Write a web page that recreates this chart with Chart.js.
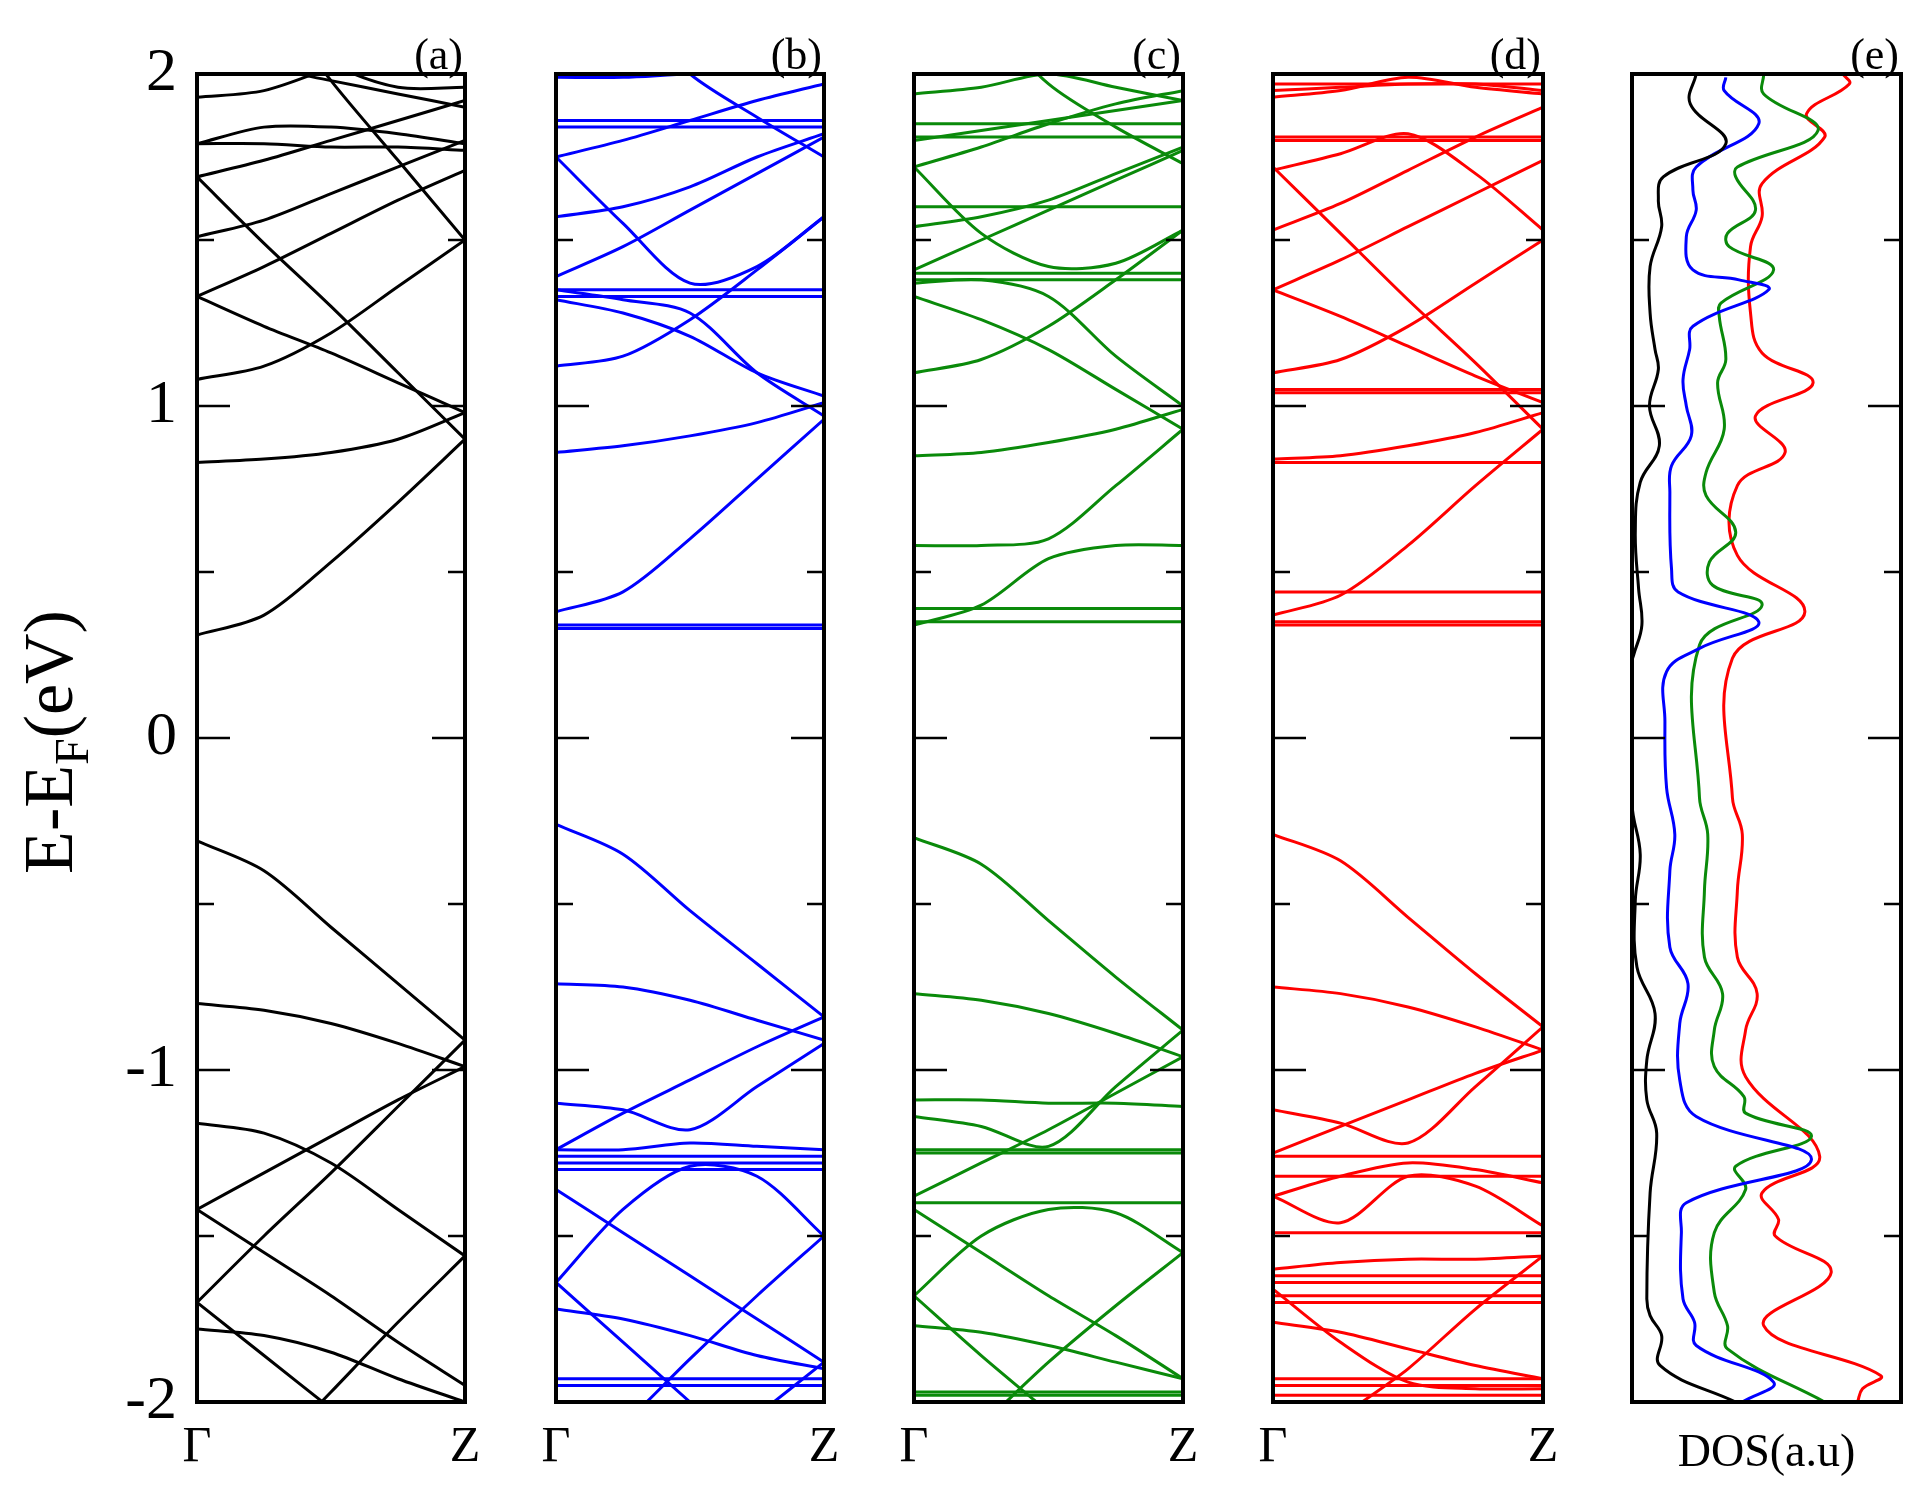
<!DOCTYPE html>
<html><head><meta charset="utf-8">
<script src="https://cdn.jsdelivr.net/npm/chart.js@4.4.1/dist/chart.umd.min.js"></script>
<style>
html,body{margin:0;padding:0;background:#fff;width:1929px;height:1486px;overflow:hidden}
.p{position:absolute;top:0}
</style></head><body>
<div class="p" id="wa" style="left:0px;width:495px;height:1486px"><canvas id="ca"></canvas></div>
<div class="p" id="wb" style="left:476px;width:378px;height:1486px"><canvas id="cb"></canvas></div>
<div class="p" id="wc" style="left:834px;width:379px;height:1486px"><canvas id="cc"></canvas></div>
<div class="p" id="wd" style="left:1193px;width:380px;height:1486px"><canvas id="cd"></canvas></div>
<div class="p" id="we" style="left:1552px;width:379px;height:1486px"><canvas id="ce"></canvas></div>
<script>
// k-path sample positions (Γ=0, Z=1)
const kPoints = [0, 0.25, 0.5, 0.75, 1];
const kLabels = ['Γ', 'Z'];
const yTicks = [-2, -1, 0, 1, 2];
const panelLabels = ['(a)', '(b)', '(c)', '(d)', '(e)'];

// Panel (a) bands, energies (eV) at kPoints
const bandsA = [
 [-0.31,-0.40,-0.57,-0.74,-0.91],
 [-0.80,-0.82,-0.86,-0.92,-0.99],
 [-1.16,-1.19,-1.28,-1.42,-1.56],
 [-1.42,-1.31,-1.20,-1.09,-0.99],
 [-1.70,-1.50,-1.31,-1.11,-0.91],
 [-1.42,-1.55,-1.68,-1.82,-1.95],
 [-1.70,-1.86,-2.02,-2.18,-2.34],
 [-1.78,-1.80,-1.85,-1.93,-2.00],
 [-2.40,-2.18,-1.97,-1.76,-1.56],
 [0.31,0.37,0.53,0.71,0.90],
 [0.83,0.84,0.86,0.90,0.98],
 [1.08,1.12,1.22,1.36,1.50],
 [1.33,1.24,1.16,1.07,0.98],
 [1.33,1.42,1.52,1.62,1.71],
 [1.69,1.49,1.30,1.10,0.90],
 [1.69,1.74,1.80,1.86,1.92],
 [1.51,1.56,1.64,1.72,1.80],
 [1.79,1.79,1.78,1.78,1.77],
 [1.79,1.84,1.84,1.82,1.79],
 [1.93,1.95,2.02,2.10,2.20],
 [2.50,2.25,1.98,1.74,1.50],
 [2.30,2.15,2.03,1.96,1.96],
 [2.05,2.02,1.98,1.94,1.90]
];
// Panel (b)
const bandsB = [
 [-0.26,-0.35,-0.52,-0.68,-0.84],
 [-0.74,-0.75,-0.79,-0.85,-0.91],
 [-1.10,-1.12,-1.18,-1.05,-0.92],
 [-1.24,-1.13,-1.03,-0.93,-0.84],
 [-1.24,-1.24,-1.22,-1.23,-1.24],
 [-1.26,-1.26,-1.26,-1.26,-1.26],
 [-1.28,-1.28,-1.28,-1.28,-1.28],
 [-1.30,-1.30,-1.30,-1.30,-1.30],
 [-1.36,-1.49,-1.62,-1.75,-1.88],
 [-1.64,-1.42,-1.29,-1.32,-1.50],
 [-1.64,-1.82,-2.00,-2.18,-2.36],
 [-1.72,-1.75,-1.80,-1.86,-1.90],
 [-2.25,-2.07,-1.87,-1.68,-1.50],
 [-1.93,-1.93,-1.93,-1.93,-1.93],
 [-1.95,-1.95,-1.95,-1.95,-1.95],
 [-2.50,-2.35,-2.20,-2.04,-1.88],
 [0.38,0.44,0.60,0.78,0.96],
 [0.34,0.34,0.34,0.34,0.34],
 [0.33,0.33,0.33,0.33,0.33],
 [0.86,0.88,0.91,0.95,1.01],
 [1.12,1.15,1.26,1.41,1.57],
 [1.32,1.28,1.21,1.10,1.03],
 [1.35,1.32,1.28,1.10,0.97],
 [1.35,1.35,1.35,1.35,1.35],
 [1.33,1.33,1.33,1.33,1.33],
 [1.39,1.48,1.59,1.70,1.81],
 [1.75,1.55,1.37,1.42,1.57],
 [1.75,1.80,1.86,1.92,1.97],
 [1.57,1.60,1.66,1.75,1.82],
 [1.86,1.86,1.86,1.86,1.86],
 [1.84,1.84,1.84,1.84,1.84],
 [2.40,2.20,2.00,1.87,1.75],
 [1.99,1.99,2.00,2.00,2.00]
];
// Panel (c)
const bandsC = [
 [-0.30,-0.38,-0.55,-0.72,-0.88],
 [-0.77,-0.79,-0.83,-0.89,-0.96],
 [-1.09,-1.09,-1.10,-1.10,-1.11],
 [-1.14,-1.17,-1.23,-1.05,-0.88],
 [-1.24,-1.24,-1.24,-1.24,-1.24],
 [-1.25,-1.25,-1.25,-1.25,-1.25],
 [-1.38,-1.28,-1.18,-1.07,-0.96],
 [-1.42,-1.55,-1.68,-1.80,-1.93],
 [-1.40,-1.40,-1.40,-1.40,-1.40],
 [-1.68,-1.50,-1.42,-1.43,-1.55],
 [-1.68,-1.86,-2.03,-2.20,-2.37],
 [-1.77,-1.79,-1.83,-1.88,-1.93],
 [-2.25,-2.07,-1.88,-1.71,-1.55],
 [-1.97,-1.97,-1.97,-1.97,-1.97],
 [-1.98,-1.98,-1.98,-1.98,-1.98],
 [0.34,0.40,0.54,0.58,0.58],
 [0.58,0.58,0.60,0.76,0.93],
 [0.39,0.39,0.39,0.39,0.39],
 [0.35,0.35,0.35,0.35,0.35],
 [0.85,0.86,0.89,0.93,0.99],
 [1.10,1.14,1.24,1.38,1.53],
 [1.33,1.26,1.17,1.05,0.93],
 [1.37,1.38,1.33,1.15,1.00],
 [1.40,1.40,1.40,1.40,1.40],
 [1.38,1.38,1.38,1.38,1.38],
 [1.41,1.50,1.59,1.68,1.77],
 [1.72,1.52,1.42,1.43,1.53],
 [1.72,1.78,1.85,1.91,1.95],
 [1.60,1.60,1.60,1.60,1.60],
 [1.54,1.57,1.62,1.70,1.78],
 [1.85,1.85,1.85,1.85,1.85],
 [1.81,1.81,1.81,1.81,1.81],
 [1.80,1.83,1.86,1.89,1.92],
 [1.94,1.96,2.00,1.96,1.92],
 [2.40,2.18,1.97,1.84,1.73]
];
// Panel (d)
const bandsD = [
 [-0.29,-0.37,-0.54,-0.71,-0.87],
 [-0.75,-0.77,-0.81,-0.87,-0.94],
 [-1.12,-1.16,-1.22,-1.05,-0.87],
 [-1.25,-1.17,-1.09,-1.01,-0.94],
 [-1.26,-1.26,-1.26,-1.26,-1.26],
 [-1.32,-1.32,-1.32,-1.32,-1.32],
 [-1.38,-1.46,-1.32,-1.35,-1.47],
 [-1.38,-1.32,-1.28,-1.30,-1.34],
 [-1.49,-1.49,-1.49,-1.49,-1.49],
 [-1.60,-1.58,-1.57,-1.57,-1.56],
 [-1.62,-1.62,-1.62,-1.62,-1.62],
 [-1.64,-1.64,-1.64,-1.64,-1.64],
 [-1.68,-1.68,-1.68,-1.68,-1.68],
 [-1.70,-1.70,-1.70,-1.70,-1.70],
 [-1.66,-1.82,-1.94,-1.96,-1.96],
 [-1.76,-1.79,-1.84,-1.89,-1.93],
 [-2.25,-2.05,-1.90,-1.72,-1.56],
 [-1.93,-1.93,-1.93,-1.93,-1.93],
 [-1.95,-1.95,-1.95,-1.95,-1.95],
 [-1.98,-1.98,-1.98,-1.98,-1.98],
 [0.37,0.43,0.58,0.76,0.93],
 [0.44,0.44,0.44,0.44,0.44],
 [0.35,0.35,0.35,0.35,0.35],
 [0.34,0.34,0.34,0.34,0.34],
 [0.84,0.85,0.88,0.92,0.98],
 [0.83,0.83,0.83,0.83,0.83],
 [1.10,1.14,1.24,1.37,1.50],
 [1.05,1.05,1.05,1.05,1.05],
 [1.04,1.04,1.04,1.04,1.04],
 [1.35,1.27,1.18,1.09,1.01],
 [1.35,1.44,1.54,1.64,1.74],
 [1.53,1.61,1.71,1.81,1.90],
 [1.72,1.52,1.32,1.13,0.93],
 [1.71,1.76,1.82,1.70,1.53],
 [1.81,1.81,1.81,1.81,1.81],
 [1.80,1.80,1.80,1.80,1.80],
 [1.97,1.97,1.97,1.97,1.97],
 [1.95,1.96,1.97,1.97,1.95],
 [1.93,1.95,1.99,1.96,1.94]
];

// DOS curves (panel e): energy (eV) and DOS (a.u.)
const dosBlackE = [2.00,1.91,1.79,1.69,1.62,1.54,1.42,1.28,1.17,1.11,1.00,0.88,0.77,0.62,0.45,0.34,0.25,0.23,-0.20,-0.35,-0.49,-0.69,-0.83,-0.97,-1.09,-1.19,-1.37,-1.69,-1.74,-1.80,-1.89,-2.00];
const dosBlack  = [195,177,285,95,80,90,55,55,70,80,53,83,25,10,20,30,5,0,0,25,10,15,70,45,45,75,55,45,55,90,85,315];
const dosBlueE = [1.99,1.95,1.85,1.72,1.65,1.59,1.51,1.41,1.38,1.35,1.24,1.17,1.08,1.00,0.91,0.82,0.74,0.51,0.44,0.35,0.27,0.20,0.05,-0.15,-0.29,-0.40,-0.63,-0.74,-0.86,-1.03,-1.14,-1.27,-1.40,-1.49,-1.69,-1.76,-1.83,-1.94,-2.00];
const dosBlue  = [285,280,385,195,185,195,165,185,325,415,185,175,155,165,180,120,115,120,140,385,205,105,100,105,130,115,115,170,145,145,195,545,165,150,155,190,195,430,335];
const dosGreenE = [2.00,1.94,1.83,1.72,1.69,1.59,1.52,1.48,1.41,1.31,1.27,1.14,1.07,0.93,0.80,0.73,0.62,0.53,0.46,0.40,0.28,-0.18,-0.29,-0.46,-0.66,-0.77,-0.88,-0.99,-1.08,-1.13,-1.20,-1.29,-1.36,-1.49,-1.67,-1.77,-1.84,-2.00];
const dosGreen  = [400,400,565,320,315,375,290,295,430,270,265,285,260,280,225,225,315,235,245,395,205,205,230,220,220,275,250,250,340,345,545,315,345,250,250,290,290,585];
const dosRedE = [2.00,1.97,1.88,1.81,1.67,1.57,1.48,1.28,1.16,1.07,0.97,0.86,0.76,0.55,0.38,0.24,-0.18,-0.29,-0.46,-0.66,-0.77,-0.88,-1.02,-1.26,-1.37,-1.45,-1.50,-1.61,-1.77,-1.92,-1.96,-2.00];
const dosRed  = [640,660,530,585,395,395,360,360,395,550,375,465,320,320,525,305,305,335,320,320,380,345,345,570,395,445,435,605,400,755,700,685];

const FONT = '"Liberation Serif", "DejaVu Serif", serif';
const frameTicks = {
  id: 'frameTicks',
  afterDatasetsDraw(chart, args, o) {
    const {ctx, chartArea: a} = chart; const y = chart.scales.y;
    ctx.save(); ctx.strokeStyle = '#000'; ctx.lineWidth = 2.5;
    for (let v = -2; v <= 2.001; v += 0.5) {
      const py = y.getPixelForValue(v); const len = Math.abs(v % 1) < 1e-6 ? 33 : 17;
      ctx.beginPath(); ctx.moveTo(a.left, py); ctx.lineTo(a.left + len, py);
      ctx.moveTo(a.right, py); ctx.lineTo(a.right - len, py); ctx.stroke();
    }
    ctx.lineWidth = 4; ctx.strokeRect(a.left, a.top, a.right - a.left, a.bottom - a.top);
    ctx.fillStyle = '#000'; ctx.font = '44px ' + FONT; ctx.textAlign = 'right'; ctx.textBaseline = 'alphabetic';
    ctx.fillText(o.label, a.right - 2, a.top - 5);
    if (o.title) {
      ctx.save(); ctx.translate(72, (a.top + a.bottom) / 2 + 4); ctx.rotate(-Math.PI / 2);
      const t1 = 'E-E', t3 = '(eV)';
      ctx.font = '70px ' + FONT; const w1 = ctx.measureText(t1).width, w3 = ctx.measureText(t3).width;
      ctx.font = '48px ' + FONT; const w2 = ctx.measureText('F').width;
      let x = -(w1 + w2 + w3) / 2; ctx.textAlign = 'left';
      ctx.font = '70px ' + FONT; ctx.fillText(t1, x, 0); x += w1;
      ctx.font = '48px ' + FONT; ctx.fillText('F', x, 16); x += w2;
      ctx.font = '70px ' + FONT; ctx.fillText(t3, x, 0);
      ctx.restore();
    }
    ctx.restore();
  }
};

function yScale(axisWidth, showLabels) {
  return { type: 'linear', min: -2, max: 2,
    afterBuildTicks: s => { s.ticks = yTicks.map(v => ({value: v})); },
    afterFit: s => { s.width = axisWidth; },
    grid: {display: false}, border: {display: false},
    ticks: {display: showLabels, padding: 12, color: '#000', font: {family: FONT, size: 62}, callback: v => String(v)} };
}

function bandPanel(id, bands, color, axisWidth, label, first) {
  new Chart(document.getElementById(id), {
    type: 'line',
    data: { datasets: bands.map(b => ({ data: b.map((e, i) => ({x: kPoints[i], y: e})), borderColor: color,
      borderWidth: 3, pointRadius: 0, tension: 0.3, fill: false })) },
    options: { responsive: true, maintainAspectRatio: false, animation: false, events: [],
      layout: {padding: {top: 74, right: 30, left: 0, bottom: 0}},
      plugins: {legend: {display: false}, tooltip: {enabled: false}, frameTicks: {label: label, title: first}},
      scales: {
        x: { type: 'linear', min: 0, max: 1,
          afterBuildTicks: s => { s.ticks = [{value: 0}, {value: 1}]; },
          afterFit: s => { s.height = 84; },
          grid: {display: false}, border: {display: false},
          ticks: {padding: 8, color: '#000', font: {family: FONT, size: 50}, maxRotation: 0, callback: v => v === 0 ? kLabels[0] : kLabels[1]} },
        y: yScale(axisWidth, first) } },
    plugins: [frameTicks]
  });
}

bandPanel('ca', bandsA, '#000000', 197, panelLabels[0], true);
bandPanel('cb', bandsB, '#0000ff', 80, panelLabels[1], false);
bandPanel('cc', bandsC, '#0a8a0a', 80, panelLabels[2], false);
bandPanel('cd', bandsD, '#ff0000', 80, panelLabels[3], false);

function dosSet(xs, es, color) {
  return { data: xs.map((d, i) => ({x: d, y: es[i]})), borderColor: color, borderWidth: 3, pointRadius: 0, showLine: true, tension: 0.4, fill: false };
}
new Chart(document.getElementById('ce'), {
  type: 'scatter',
  data: { datasets: [dosSet(dosBlack, dosBlackE, '#000000'), dosSet(dosBlue, dosBlueE, '#0000ff'),
    dosSet(dosGreen, dosGreenE, '#0a8a0a'), dosSet(dosRed, dosRedE, '#ff0000')] },
  options: { responsive: true, maintainAspectRatio: false, animation: false, events: [],
    layout: {padding: {top: 74, right: 30, left: 0, bottom: 0}},
    plugins: {legend: {display: false}, tooltip: {enabled: false}, frameTicks: {label: panelLabels[4], title: false}},
    scales: {
      x: { type: 'linear', min: 0, max: 817, afterFit: s => { s.height = 84; },
        grid: {display: false}, border: {display: false}, ticks: {display: false},
        title: {display: true, text: 'DOS(a.u)', color: '#000', font: {family: FONT, size: 46}, padding: {top: 12}} },
      y: yScale(80, false) } },
  plugins: [frameTicks]
});
</script></body></html>
